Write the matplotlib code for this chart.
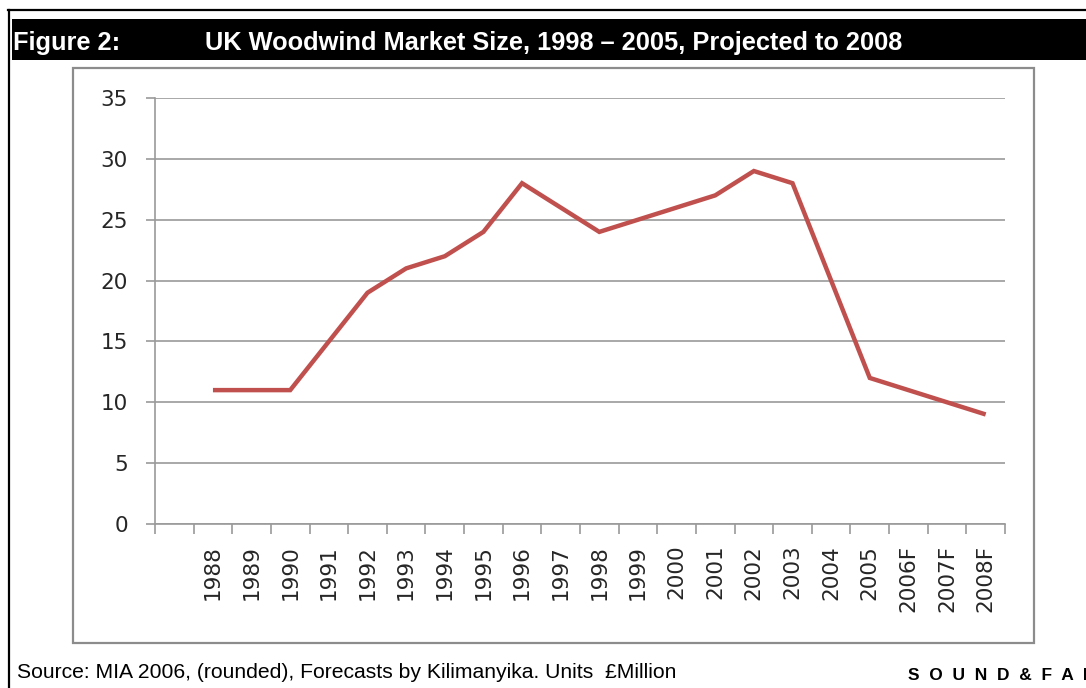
import matplotlib
matplotlib.use("Agg")
import matplotlib.pyplot as plt
from matplotlib.patches import Rectangle
from matplotlib.lines import Line2D
from matplotlib.ticker import FixedLocator, NullFormatter, FixedFormatter

# Market size, £ million (rounded); F = forecast
years = ["1988", "1989", "1990", "1991", "1992", "1993", "1994", "1995",
         "1996", "1997", "1998", "1999", "2000", "2001", "2002", "2003",
         "2004", "2005", "2006F", "2007F", "2008F"]
market = [11, 11, 11, 15, 19, 21, 22, 24, 28, 26, 24, 25, 26, 27, 29, 28,
          20, 12, 11, 10, 9]
y_ticks = [0, 5, 10, 15, 20, 25, 30, 35]

W, H = 1086, 688
fig = plt.figure(figsize=(W / 100, H / 100), dpi=100)
fig.patch.set_facecolor("white")


def fx(px):
    return px / W


def fy(py):
    return 1 - py / H


# page frame lines
fig.add_artist(Line2D([fx(8), fx(1086)], [fy(10), fy(10)], color="black", lw=1.6))
fig.add_artist(Line2D([fx(9), fx(9)], [fy(10), fy(688)], color="black", lw=1.6))

# black header bar with the figure title
fig.add_artist(Rectangle((fx(12), fy(60)), fx(1086) - fx(12), fy(19) - fy(60),
                         facecolor="black", edgecolor="none"))
title_font = dict(family="Liberation Sans", weight="bold", size=18.3, color="white",
                  va="baseline", ha="left")
fig.text(fx(13), fy(50), "Figure 2:", **title_font)
fig.text(fx(205), fy(50), "UK Woodwind Market Size, 1998 \u2013 2005, Projected to 2008",
         **title_font)

# chart frame
fig.add_artist(Rectangle((fx(73), fy(643)), fx(1034) - fx(73), fy(68) - fy(643),
                         facecolor="none", edgecolor="#8c8c8c", lw=1.6))

# plot area
ax = fig.add_axes([fx(155), fy(524), fx(1005) - fx(155), fy(98) - fy(524)])
n_slots = len(years) + 1
xs = [i + 1.5 for i in range(len(years))]
ax.plot(xs, market, color="#C0504D", lw=3.2, solid_joinstyle="miter",
        solid_capstyle="butt", zorder=3)

ax.set_xlim(0, n_slots)
ax.set_ylim(0, 35)
ax.set_yticks(y_ticks)
ax.yaxis.grid(True, color="#9a9a9a", lw=1.2)
ax.set_axisbelow(True)

ax.xaxis.set_major_locator(FixedLocator(range(n_slots + 1)))
ax.xaxis.set_major_formatter(NullFormatter())
ax.xaxis.set_minor_locator(FixedLocator([i + 0.5 for i in range(n_slots)]))
ax.xaxis.set_minor_formatter(FixedFormatter([""] + years))
ax.tick_params(axis="x", which="major", length=7, width=1.2, color="#9a9a9a")
ax.tick_params(axis="x", which="minor", length=0, pad=15, labelrotation=90,
               labelsize=15.5, labelcolor="#262626")
for lab in ax.xaxis.get_minorticklabels():
    lab.set_family("DejaVu Sans")
    lab.set_va("top")
ax.tick_params(axis="y", length=6.5, width=1.2, color="#9a9a9a", pad=13,
               labelsize=15.5, labelcolor="#262626")

for side in ("top", "right"):
    ax.spines[side].set_visible(False)
for side in ("left", "bottom"):
    ax.spines[side].set_color("#9a9a9a")
    ax.spines[side].set_linewidth(1.2)

# footer
fig.text(fx(17), fy(672), "Source: MIA 2006, (rounded), Forecasts by Kilimanyika. Units  \u00a3Million",
         family="Liberation Sans", size=15.2, color="black", va="center", ha="left")
fig.text(fx(908), fy(675), "S  O  U  N  D  &  F  A  I  R",
         family="Liberation Sans", weight="bold", size=12.5, color="black",
         va="center", ha="left")

fig.savefig("out.png", dpi=100, facecolor="white")
